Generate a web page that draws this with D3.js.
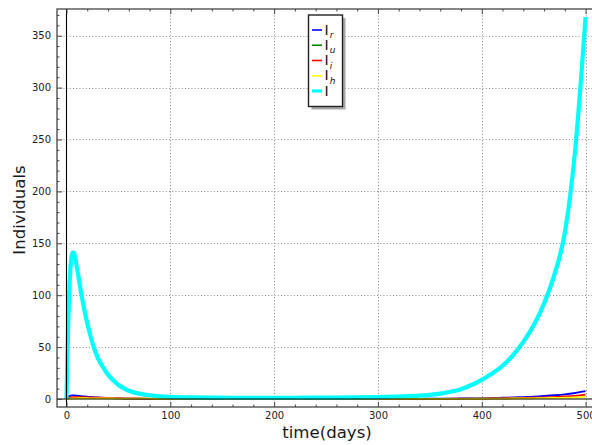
<!DOCTYPE html>
<html>
<head>
<meta charset="utf-8">
<script src="https://cdn.jsdelivr.net/npm/d3@7/dist/d3.min.js"></script>
<style>
  html, body { margin: 0; padding: 0; background: #fff; }
  svg { display: block; font-family: "DejaVu Sans", sans-serif; }
</style>
</head>
<body>
<svg id="chart" width="592" height="445"></svg>
<script>
// Time points (days)
const days = [0,1,2,3,4,5,6,7,8,9,10,12,14,16,18,20,22,25,28,30,35,40,45,50,55,60,70,80,90,100,
  120,140,160,180,200,220,240,260,280,300,320,340,350,360,370,380,390,400,
  410,420,430,440,450,460,470,480,490,500];

// Compartments of infected individuals
const Ir = [0,1.5,2.5,3,3.3,3.5,3.5,3.5,3.4,3.3,3.2, 3,2.8,2.6,2.4,2.2,2, 1.8,1.6,1.5, 1.2,1,0.8,0.6,0.5,0.4, 0.3,0.2,0.15,0.1,
  0.05,0.04,0.03,0.03,0.03, 0.04,0.05,0.06,0.08,0.1, 0.15,0.2,0.25,0.3,0.4,0.5,0.6,0.8,
  1,1.2,1.5,1.9,2.3,2.9,3.6,4.5,5.8,7.5];
const Iu = [0,44,83,109,126,135,138,138,135,130,124, 112,100,89.5,79.5,70.5,62.5, 51.5,43,38, 29.5,22,17,12.5,9.6,7, 4.3,2.9,2.0,1.4,
  1.1,1.0,0.95,0.95,0.95, 0.95,1.0,1.1,1.3,1.7, 2.2,3.0,3.8,5.0,6.7,9.1,13.0,17.9,
  23.8,31.1,40.8,53.5,69.1,89.6,116.9,156,234.5,361];
const Ii = [0,0.5,1,1.3,1.5,1.6,1.7,1.8,1.8,1.8,1.8, 1.8,1.7,1.7,1.6,1.6,1.5, 1.4,1.3,1.3, 1.1,1,0.9,0.8,0.7,0.6, 0.5,0.4,0.3,0.25,
  0.15,0.1,0.08,0.06,0.05, 0.05,0.06,0.07,0.08,0.1, 0.12,0.15,0.18,0.2,0.25,0.3,0.35,0.45,
  0.55,0.65,0.8,1,1.2,1.5,1.9,2.4,3.1,4.2];
const Ih = [0,0.1,0.2,0.3,0.4,0.5,0.55,0.6,0.65,0.7,0.7, 0.75,0.75,0.75,0.75,0.75,0.7, 0.7,0.7,0.65, 0.6,0.55,0.5,0.45,0.4,0.38, 0.32,0.28,0.24,0.2,
  0.15,0.1,0.08,0.06,0.05, 0.05,0.05,0.05,0.06,0.07, 0.08,0.1,0.11,0.13,0.15,0.18,0.22,0.27,
  0.33,0.4,0.48,0.58,0.7,0.85,1.05,1.3,1.6,2.0];
const Itotal = [0,45,85,112,129,138,141,141,138,133,127, 115,103,92,82,73,65, 54,45,40, 31,23.5,18,13.5,10.5,8, 5.2,3.6,2.6,2.0,
  1.5,1.3,1.2,1.2,1.2, 1.2,1.3,1.4,1.6,1.9, 2.4,3.2,4,5.2,7,9.5,13.5,18.5,
  24.5,32,42,55,71,92,120,160,240,368];

// Series styling and legend subscripts
const seriesNames = ["Ir","Iu","Ii","Ih","I"];
const seriesData = [Ir, Iu, Ii, Ih, Itotal];
const seriesColors = ["#0000ff","#008000","#ff0000","#ffff00","#00ffff"];
const seriesWidths = [1.8,1.6,1.8,1.8,4.2];
const legendSubs = ["r","u","i","h",""];

// Tick values
const xMajor = [0,100,200,300,400,500];
const yMajor = [0,50,100,150,200,250,300,350];
const xMinor = d3.range(0, 520, 20).filter(v => v % 100 !== 0);
const yMinor = d3.range(0, 380, 10).filter(v => v % 50 !== 0);

const svg = d3.select("#chart");
const frame = {left: 57, right: 597, top: 9, bottom: 407};

const x = d3.scaleLinear().domain([-9.15, 511]).range([frame.left, frame.right]);
const y = d3.scaleLinear().domain([-7.7, 375.7]).range([frame.bottom, frame.top]);

// Dotted grid
const grid = svg.append("g").attr("stroke", "#8a8a8a").attr("stroke-width", 1)
  .attr("stroke-dasharray", "1,2.2");
grid.selectAll("line.gx").data(xMajor.filter(v => v !== 0)).join("line")
  .attr("class", "gx")
  .attr("x1", d => Math.round(x(d)) + 0.5).attr("x2", d => Math.round(x(d)) + 0.5)
  .attr("y1", frame.top).attr("y2", frame.bottom);
grid.selectAll("line.gy").data(yMajor.filter(v => v !== 0)).join("line")
  .attr("class", "gy")
  .attr("y1", d => Math.round(y(d)) + 0.5).attr("y2", d => Math.round(y(d)) + 0.5)
  .attr("x1", frame.left).attr("x2", frame.right);

// Curves
svg.append("clipPath").attr("id", "plotclip").append("rect")
  .attr("x", frame.left).attr("y", frame.top)
  .attr("width", frame.right - frame.left).attr("height", frame.bottom - frame.top);

const line = d3.line().x((d, i) => x(days[i])).y(d => y(d)).curve(d3.curveMonotoneX);
const curves = svg.append("g").attr("clip-path", "url(#plotclip)");
seriesData.forEach((vals, k) => {
  curves.append("path")
    .datum(vals)
    .attr("fill", "none")
    .attr("stroke", seriesColors[k])
    .attr("stroke-width", seriesWidths[k])
    .attr("stroke-linejoin", "round")
    .attr("d", line);
});

// Axis lines through the origin
svg.append("line").attr("x1", frame.left).attr("x2", frame.right)
  .attr("y1", y(0)).attr("y2", y(0)).attr("stroke", "#000").attr("stroke-width", 1.1);
svg.append("line").attr("x1", x(0)).attr("x2", x(0))
  .attr("y1", frame.top).attr("y2", frame.bottom).attr("stroke", "#000").attr("stroke-width", 1.1);

// Frame
svg.append("rect").attr("x", frame.left).attr("y", frame.top)
  .attr("width", frame.right - frame.left).attr("height", frame.bottom - frame.top)
  .attr("fill", "none").attr("stroke", "#444").attr("stroke-width", 1.3);

// Axes with inward ticks
function styleAxis(g) {
  g.select(".domain").remove();
  g.selectAll(".tick line").attr("stroke", "#444").attr("stroke-width", 1);
  g.selectAll(".tick text").attr("fill", "#222").attr("font-size", 10)
    .attr("font-family", "DejaVu Sans, sans-serif");
}
svg.append("g").attr("transform", `translate(0,${frame.bottom})`)
  .call(d3.axisBottom(x).tickValues(xMajor).tickFormat(d3.format("d")).tickSizeInner(-5).tickSizeOuter(0).tickPadding(5))
  .call(styleAxis);
svg.append("g").attr("transform", `translate(0,${frame.bottom})`)
  .call(d3.axisBottom(x).tickValues(xMinor).tickFormat("").tickSizeInner(-2.5).tickSizeOuter(0))
  .call(styleAxis);
svg.append("g").attr("transform", `translate(0,${frame.top})`)
  .call(d3.axisTop(x).tickValues(xMajor).tickFormat("").tickSizeInner(-5).tickSizeOuter(0))
  .call(styleAxis);
svg.append("g").attr("transform", `translate(0,${frame.top})`)
  .call(d3.axisTop(x).tickValues(xMinor).tickFormat("").tickSizeInner(-2.5).tickSizeOuter(0))
  .call(styleAxis);
svg.append("g").attr("transform", `translate(${frame.left},0)`)
  .call(d3.axisLeft(y).tickValues(yMajor).tickFormat(d3.format("d")).tickSizeInner(-5).tickSizeOuter(0).tickPadding(6))
  .call(styleAxis);
svg.append("g").attr("transform", `translate(${frame.left},0)`)
  .call(d3.axisLeft(y).tickValues(yMinor).tickFormat("").tickSizeInner(-2.5).tickSizeOuter(0))
  .call(styleAxis);

// Axis titles
svg.append("text").attr("x", (frame.left + frame.right) / 2).attr("y", 438)
  .attr("text-anchor", "middle").attr("font-size", 16.6).attr("fill", "#1a1a1a")
  .text("time(days)");
svg.append("text").attr("transform", "translate(25,210) rotate(-90)")
  .attr("text-anchor", "middle").attr("font-size", 16.6).attr("fill", "#1a1a1a")
  .text("Individuals");

// Legend
const lg = svg.append("g").attr("transform", "translate(308.5,15)");
const lgW = 34, lgH = 91.5;
lg.append("rect").attr("x", 3).attr("y", 3).attr("width", lgW).attr("height", lgH)
  .attr("fill", "#a8a8a8");
lg.append("rect").attr("width", lgW).attr("height", lgH)
  .attr("fill", "#fff").attr("stroke", "#222").attr("stroke-width", 1.4);
seriesNames.forEach((name, k) => {
  const cy = 15 + k * 15.25;
  lg.append("line").attr("x1", 3.5).attr("x2", 13.5).attr("y1", cy).attr("y2", cy)
    .attr("stroke", seriesColors[k]).attr("stroke-width", k === 4 ? 3.2 : 1.6);
  const t = lg.append("text").attr("x", 16).attr("y", cy + 4.5)
    .attr("font-size", 14).attr("fill", "#111");
  t.append("tspan").text("I");
  if (legendSubs[k]) {
    t.append("tspan").attr("dy", 3.5).attr("dx", 1).attr("font-size", 9)
      .attr("font-style", "italic").text(legendSubs[k]);
  }
});
</script>
</body>
</html>
